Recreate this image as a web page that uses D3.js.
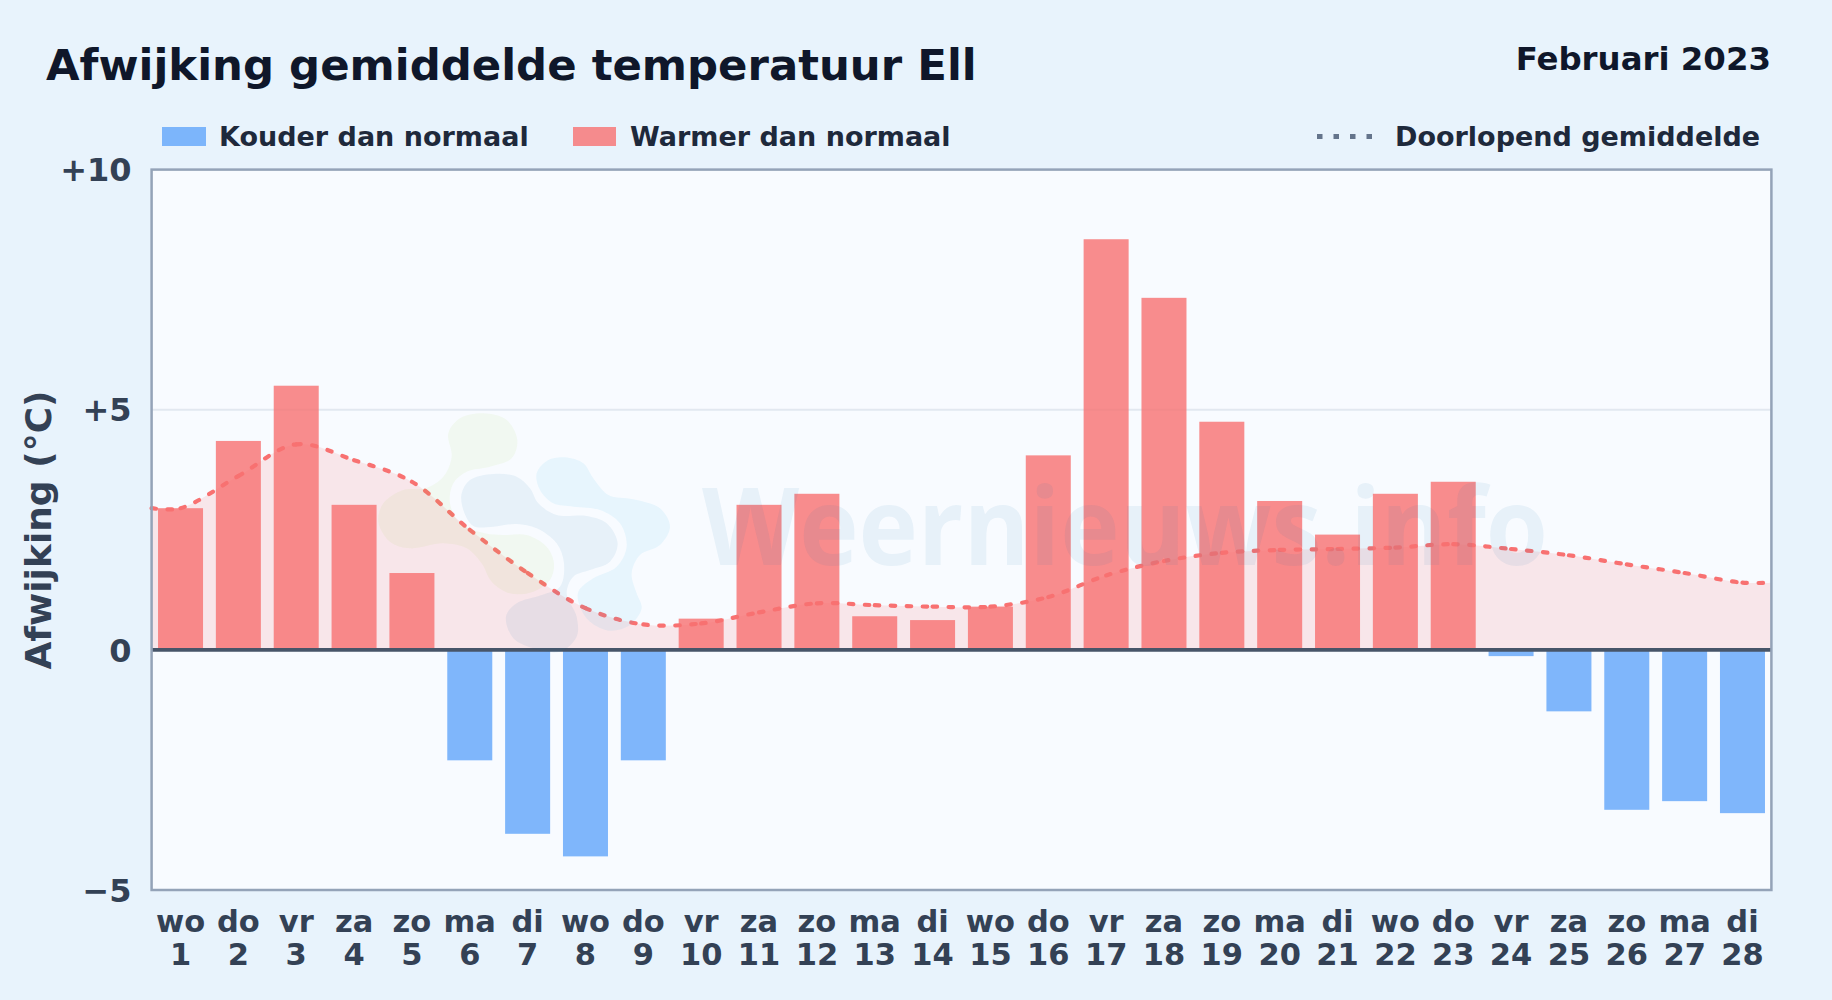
<!DOCTYPE html>
<html>
<head>
<meta charset="utf-8">
<script src="https://d3js.org/d3.v7.min.js"></script>
<style>
  html, body { margin: 0; padding: 0; background: #e8f3fc; }
  svg { display: block; }
  text { font-family: "DejaVu Sans", sans-serif; font-weight: bold; }
</style>
</head>
<body>
<div id="chart"></div>
<script>
// Days of february 2023
var weekdays = ["wo","do","vr","za","zo","ma","di","wo","do","vr","za","zo","ma","di","wo","do","vr","za","zo","ma","di","wo","do","vr","za","zo","ma","di"];
var days = [1,2,3,4,5,6,7,8,9,10,11,12,13,14,15,16,17,18,19,20,21,22,23,24,25,26,27,28];

// Deviation per day (degrees C)
var deviation = [2.95,4.35,5.5,3.02,1.6,-2.3,-3.83,-4.3,-2.3,0.65,3.02,3.25,0.7,0.62,0.9,4.05,8.55,7.33,4.75,3.1,2.4,3.25,3.5,-0.13,-1.28,-3.33,-3.15,-3.4];

// Running average per day
var runningAverage = [2.95,3.62,4.28,3.95,3.5,2.5,1.6,0.87,0.53,0.55,0.78,0.97,0.93,0.9,0.9,1.1,1.55,1.85,2.02,2.08,2.1,2.13,2.2,2.1,1.97,1.78,1.6,1.4];

var yTicks = [-5, 0, 5, 10];
var yDomain = [-5, 10];

// Watermark logo outlines, traced by hand
var logoGreen = [[370,40],[440,60],[472,120],[455,175],[390,200],[320,215],[280,250],[270,310],[300,370],[375,400],[430,405],[500,405],[560,440],[582,490],[570,540],[520,575],[450,580],[395,545],[365,490],[320,445],[250,430],[150,445],[90,425],[55,365],[70,310],[130,270],[195,265],[250,230],[275,170],[265,100],[300,55]];
var logoBlue = [[305,280],[330,240],[400,222],[470,230],[510,265],[535,310],[590,345],[680,348],[740,370],[773,430],[750,485],[690,510],[640,530],[620,580],[650,650],[650,710],[600,755],[520,745],[460,715],[438,650],[470,610],[545,585],[600,560],[612,490],[590,430],[530,385],[470,372],[400,380],[340,378],[310,330]];
var logoSky = [[615,172],[670,190],[700,235],[745,285],[820,298],[900,325],[930,380],[900,435],[840,465],[815,520],[830,580],[845,625],[810,675],[750,692],[690,665],[660,620],[655,575],[700,535],[770,500],[800,440],[780,370],[720,330],[640,320],[580,310],[540,270],[530,220],[565,180]];

var svgWidth = 1832;
var svgHeight = 1000;

var margin = { top: 169.6, right: 60.6, bottom: 110, left: 151.6 };
var width = svgWidth - margin.left - margin.right;
var height = svgHeight - margin.top - margin.bottom;

var svg = d3
  .select("#chart")
  .append("svg")
  .attr("width", svgWidth)
  .attr("height", svgHeight);

svg.append("rect")
  .attr("width", svgWidth)
  .attr("height", svgHeight)
  .attr("fill", "#e8f3fc");

// Title block
svg.append("text")
  .attr("x", 46)
  .attr("y", 79.5)
  .attr("font-size", 43.4)
  .attr("fill", "#0f172a")
  .text("Afwijking gemiddelde temperatuur Ell");

svg.append("text")
  .attr("x", 1771)
  .attr("y", 70)
  .attr("text-anchor", "end")
  .attr("font-size", 32.4)
  .attr("fill", "#0f172a")
  .text("Februari 2023");

// Legend
var legend = svg.append("g").attr("font-size", 27).attr("fill", "#1e293b");

legend.append("rect").attr("x", 162).attr("y", 127).attr("width", 44).attr("height", 19).attr("fill", "#60a5fa").attr("fill-opacity", 0.8);
legend.append("text").attr("x", 219).attr("y", 146).text("Kouder dan normaal");
legend.append("rect").attr("x", 573).attr("y", 127).attr("width", 43).attr("height", 19).attr("fill", "#f87171").attr("fill-opacity", 0.8);
legend.append("text").attr("x", 630).attr("y", 146).text("Warmer dan normaal");
legend.append("line")
  .attr("x1", 1317).attr("x2", 1375).attr("y1", 136.5).attr("y2", 136.5)
  .attr("stroke", "#64748b").attr("stroke-width", 5).attr("stroke-dasharray", "5.5,11");
legend.append("text").attr("x", 1395).attr("y", 146).text("Doorlopend gemiddelde");

var chartGroup = svg
  .append("g")
  .attr("transform", `translate(${margin.left}, ${margin.top})`);

// Scales
var xScale = d3.scaleBand()
  .domain(days)
  .range([0, width])
  .paddingInner(0.222)
  .paddingOuter(0.111);

var yScale = d3.scaleLinear().domain(yDomain).range([height, 0]);

var xCenter = (d) => xScale(d) + xScale.bandwidth() / 2;

// Plot background
chartGroup.append("rect")
  .attr("width", width)
  .attr("height", height)
  .attr("fill", "#f8fbff");

// Gridline at +5
chartGroup.append("g")
  .selectAll("line")
  .data(yTicks.filter((d) => d === 5))
  .enter()
  .append("line")
  .attr("x1", 0)
  .attr("x2", width)
  .attr("y1", (d) => yScale(d))
  .attr("y2", (d) => yScale(d))
  .attr("stroke", "#e2e8f0")
  .attr("stroke-width", 2);

// Running average runs flat to both edges of the plot
var avgPoints = runningAverage.map((d, i) => [xCenter(days[i]), yScale(d)]);
avgPoints.unshift([0, yScale(runningAverage[0])]);
avgPoints.push([width, yScale(runningAverage[runningAverage.length - 1])]);

var avgCurve = d3.curveCatmullRom.alpha(0.5);

var avgArea = d3.area()
  .x((d) => d[0])
  .y0(yScale(0))
  .y1((d) => d[1])
  .curve(avgCurve);

chartGroup.append("path")
  .attr("d", avgArea(avgPoints))
  .attr("fill", "#f87171")
  .attr("fill-opacity", 0.15);

// Bars
chartGroup.selectAll(".bar")
  .data(deviation)
  .enter()
  .append("rect")
  .attr("class", "bar")
  .attr("x", (d, i) => xScale(days[i]))
  .attr("width", xScale.bandwidth())
  .attr("y", (d) => yScale(Math.max(d, 0)))
  .attr("height", (d) => Math.abs(yScale(d) - yScale(0)))
  .attr("fill", (d) => (d < 0 ? "#60a5fa" : "#f87171"))
  .attr("fill-opacity", 0.8);

// The dash pattern starts over every day, so each curve piece gets its own path
var segments = [];
var penX, penY;
var recorder = {
  beginPath: function () {},
  closePath: function () {},
  moveTo: function (x, y) { penX = x; penY = y; },
  lineTo: function (x, y) {
    segments.push(`M${penX},${penY}L${x},${y}`);
    penX = x; penY = y;
  },
  bezierCurveTo: function (a, b, c, d, x, y) {
    segments.push(`M${penX},${penY}C${a},${b},${c},${d},${x},${y}`);
    penX = x; penY = y;
  },
};
d3.line().curve(avgCurve).context(recorder)(avgPoints);

chartGroup.append("g")
  .selectAll("path")
  .data(segments)
  .enter()
  .append("path")
  .attr("d", (d) => d)
  .attr("fill", "none")
  .attr("stroke", "#f87171")
  .attr("stroke-width", 4.2)
  .attr("stroke-linecap", "round")
  .attr("stroke-dasharray", "4.5,11.5");

// Zero line
chartGroup.append("line")
  .attr("x1", 0)
  .attr("x2", width)
  .attr("y1", yScale(0))
  .attr("y2", yScale(0))
  .attr("stroke", "#475569")
  .attr("stroke-width", 3.6);

// Watermark
var logoLine = d3.line().curve(d3.curveCatmullRomClosed.alpha(0.5));
var logo = svg.append("g").attr("transform", "translate(360, 400) scale(0.3333)");
logo.append("path").attr("d", logoLine(logoGreen)).attr("fill", "#84cc16").attr("fill-opacity", 0.06);
logo.append("path").attr("d", logoLine(logoBlue)).attr("fill", "#0e78b0").attr("fill-opacity", 0.07);
logo.append("path").attr("d", logoLine(logoSky)).attr("fill", "#0ea5e9").attr("fill-opacity", 0.07);

svg.append("text")
  .attr("x", 702)
  .attr("y", 565)
  .attr("font-size", 108)
  .attr("fill", "#0e78b0")
  .attr("fill-opacity", 0.07)
  .attr("textLength", 846)
  .attr("lengthAdjust", "spacingAndGlyphs")
  .style("font-family", "'Open Sans'")
  .style("font-weight", 700)
  .text("Weernieuws.info");

// Frame
chartGroup.append("rect")
  .attr("width", width)
  .attr("height", height)
  .attr("fill", "none")
  .attr("stroke", "#94a3b8")
  .attr("stroke-width", 2.5);

// Axes
var leftAxis = d3.axisLeft(yScale)
  .tickValues(yTicks)
  .tickSize(0)
  .tickPadding(20)
  .tickFormat((d) => (d > 0 ? "+" + d : d < 0 ? "\u2212" + Math.abs(d) : "0"));

var yAxis = chartGroup.append("g").call(leftAxis);
yAxis.select(".domain").remove();
yAxis.selectAll("text")
  .attr("y", 1)
  .style("font-size", "32px")
  .attr("fill", "#334155");

var bottomAxis = d3.axisBottom(xScale).tickSize(0).tickFormat("");
var xAxis = chartGroup.append("g")
  .attr("transform", `translate(0, ${height})`)
  .call(bottomAxis);
xAxis.select(".domain").remove();

var xLabels = xAxis.selectAll("text")
  .attr("y", 0)
  .attr("dy", null)
  .style("font-size", "30.5px")
  .attr("fill", "#334155");
xLabels.append("tspan").attr("x", 0).attr("y", 42).text((d, i) => weekdays[i]);
xLabels.append("tspan").attr("x", 0).attr("y", 75).text((d) => d);

// Y axis title
svg.append("text")
  .attr("transform", "translate(51, 530) rotate(-90)")
  .attr("text-anchor", "middle")
  .attr("font-size", 36)
  .attr("fill", "#334155")
  .text("Afwijking (\u00b0C)");
</script>
</body>
</html>
